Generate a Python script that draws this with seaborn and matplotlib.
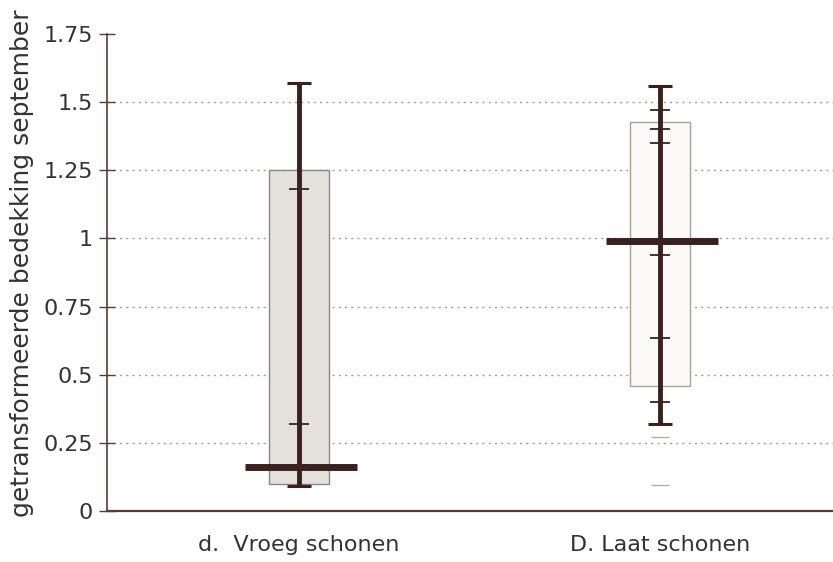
import numpy as np
import pandas as pd
import seaborn as sns
import matplotlib
matplotlib.use("Agg")
import matplotlib.pyplot as plt

# samenvatting per behandeling
groepen = ["d.  Vroeg schonen", "D. Laat schonen"]
box_onder = [0.10, 0.46]
box_boven = [1.25, 1.425]
min_waarde = [0.092, 0.32]
max_waarde = [1.57, 1.56]
mediaan = [0.16, 0.99]
waarnemingen_1 = [1.18, 0.32, 0.17]
waarnemingen_2 = [1.47, 1.40, 1.35, 0.94, 0.635, 0.40]
vaag_2 = [0.27, 0.095]

y_ticks = [0, 0.25, 0.5, 0.75, 1, 1.25, 1.5, 1.75]
y_labels = ["0", "0.25", "0.5", "0.75", "1", "1.25", "1.5", "1.75"]

obs = pd.DataFrame({
    "pos": [0] * len(waarnemingen_1) + [1] * len(waarnemingen_2),
    "waarde": waarnemingen_1 + waarnemingen_2,
})
vaag = pd.DataFrame({"pos": [1] * len(vaag_2), "waarde": vaag_2})

sns.set_theme(style="white")
plt.rcParams['font.family'] = ['DejaVu Sans']

donker = "#3a211d"
as_kleur = "#5b3a33"
tekst = "#333333"

fig = plt.figure(figsize=(8.33, 5.62), dpi=100)
ax = fig.add_axes([0.128, 0.0907, 0.872, 0.849])

# stippellijnen
for t in y_ticks[1:-1]:
    ax.axhline(t, color="#a39d98", lw=1.0, ls=(0, (1.5, 3)), zorder=0)

x = np.arange(len(groepen))
ax.bar(x, np.array(box_boven) - np.array(box_onder), bottom=box_onder, width=0.165,
       color=["#e4e1dc", "#fbfaf8"], edgecolor=["#8c8580", "#a8a29c"], linewidth=1.0, zorder=1)
ax.vlines(x, min_waarde, max_waarde, color=donker, lw=3.5, zorder=3)
ax.hlines(min_waarde, x - 0.033, x + 0.033, color=donker, lw=2.2, zorder=3)
ax.hlines(max_waarde, x - 0.033, x + 0.033, color=donker, lw=2.2, zorder=3)
ax.hlines(mediaan, x - 0.15, x + 0.16, color=donker, lw=5, zorder=4)

sns.scatterplot(data=obs, x="pos", y="waarde", marker="_", s=220, linewidth=1.3,
                color=donker, ax=ax, zorder=3, legend=False)
sns.scatterplot(data=vaag, x="pos", y="waarde", marker="_", s=150, linewidth=1.0,
                color="#b5b0ab", ax=ax, zorder=3, legend=False)

ax.set_xlim(-0.532, 1.479)
ax.set_ylim(0, 1.75)
ax.set_xticks(x)
ax.set_xticklabels(groepen, fontsize=16, color=tekst)
ax.set_yticks(y_ticks)
ax.set_yticklabels(y_labels, fontsize=16, color=tekst)
ax.tick_params(axis="x", length=0, pad=17)
ax.tick_params(axis="y", direction="inout", length=12, width=1.0, color=as_kleur, pad=4, left=True)

ax.set_xlabel("")
ax.set_ylabel("getransformeerde bedekking september", fontsize=18, color=tekst)
ax.yaxis.set_label_coords(-0.1, 0.52)

sns.despine(ax=ax)
ax.spines["left"].set_color(as_kleur)
ax.spines["left"].set_linewidth(1.2)
ax.spines["bottom"].set_color(as_kleur)
ax.spines["bottom"].set_linewidth(1.6)

fig.savefig("out.png", dpi=100)
